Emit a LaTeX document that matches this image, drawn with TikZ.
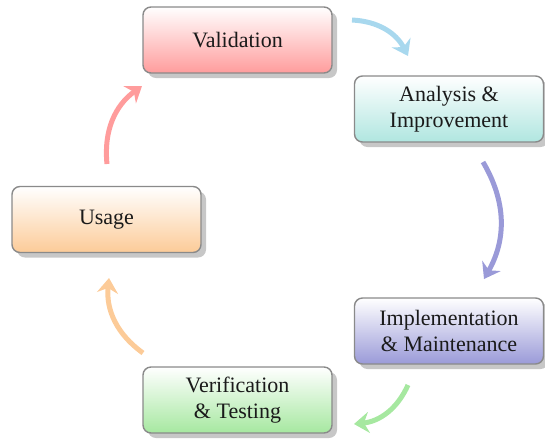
\documentclass[tikz,border=0pt]{standalone}
\usepackage{fontspec}
\setmainfont{Liberation Serif}
\usetikzlibrary{shadows,arrows.meta}
\definecolor{cRed}{HTML}{FF9C9C}
\definecolor{cCyan}{HTML}{B0E6E0}
\definecolor{cViolet}{HTML}{9A9AD8}
\definecolor{cGreen}{HTML}{A6E8A0}
\definecolor{cOrange}{HTML}{FCCB98}
\definecolor{aBlue}{HTML}{A8D8EE}
\definecolor{boxline}{HTML}{8A8A8A}
\definecolor{txt}{HTML}{1A1A1A}
\begin{document}
\begin{tikzpicture}[x=1pt,y=1pt,
  stagebox/.style={draw=boxline, line width=1.4pt, rounded corners=8pt,
    minimum width=189pt, minimum height=66pt, inner sep=0pt, align=center,
    text=txt, font=\fontsize{22}{26}\selectfont, top color=white,
    drop shadow={shadow xshift=5pt, shadow yshift=-5pt, fill=black!22, opacity=1}},
  flow/.style={line width=5pt, -{Stealth[length=15pt,width=21pt,inset=5pt]}, bend left=30}]
\useasboundingbox (0,0) rectangle (545,-440);
\node[stagebox, bottom color=cRed] (val) at (237.5,-40) {Validation};
\node[stagebox, bottom color=cCyan] (ana) at (449,-109) {Analysis \&\\Improvement};
\node[stagebox, bottom color=cViolet] (imp) at (449,-331) {Implementation\\\& Maintenance};
\node[stagebox, bottom color=cGreen] (ver) at (237.5,-400) {Verification\\\& Testing};
\node[stagebox, bottom color=cOrange] (use) at (106.5,-219.5) {Usage};
\coordinate (a1s) at (352,-20);
\coordinate (a1e) at (408,-56);
\coordinate (a2s) at (483,-162);
\coordinate (a2e) at (484,-279);
\coordinate (a3s) at (408,-385);
\coordinate (a3e) at (354,-424);
\coordinate (a4s) at (143,-353);
\coordinate (a4e) at (109,-278);
\coordinate (a5s) at (107,-164);
\coordinate (a5e) at (142,-86);
\draw[flow, draw=aBlue] (a1s) to (a1e);
\draw[flow, draw=cViolet] (a2s) to (a2e);
\draw[flow, draw=cGreen] (a3s) to (a3e);
\draw[flow, draw=cOrange] (a4s) to (a4e);
\draw[flow, draw=cRed] (a5s) to (a5e);
\end{tikzpicture}
\end{document}
